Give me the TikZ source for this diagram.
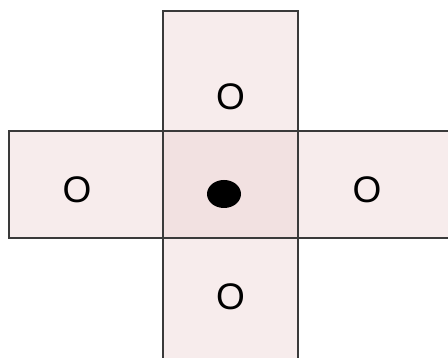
\documentclass[tikz,border=0pt]{standalone}
\usepackage{fontspec}
\setmainfont{Liberation Sans}
\definecolor{cellpink}{HTML}{F7ECEC}
\definecolor{centerpink}{HTML}{F2E1E1}
\definecolor{edge}{HTML}{3A3A3A}
\tikzset{
  cell/.style={fill=cellpink, draw=none},
  grid/.style={draw=edge, line width=1.2pt},
  lbl/.style={font=\fontsize{37}{37}\selectfont, inner sep=0pt}
}
\begin{document}
\begin{tikzpicture}[x=1pt,y=-1pt]
\useasboundingbox (0,0) rectangle (448,358);
\fill[white] (0,0) rectangle (448,358);
% cells
\path[cell] (163,11) rectangle (298,131);
\path[cell] (9,131) rectangle (163,238);
\path[cell] (298,131) rectangle (448,238);
\path[cell] (163,238) rectangle (298,358);
\path[fill=centerpink] (163,131) rectangle (298,238);
% outlines
\draw[grid] (163,358) -- (163,11) -- (298,11) -- (298,358);
\draw[grid] (448,131) -- (9,131) -- (9,238) -- (448,238);
% labels
\node[lbl] (top) at (230.5,97) {O};
\node[lbl] (left) at (77,190) {O};
\node[lbl] (right) at (367,190) {O};
\node[lbl] (bottom) at (230.5,297) {O};
\fill[black] (224,194) ellipse [x radius=17, y radius=14];
\end{tikzpicture}
\end{document}
